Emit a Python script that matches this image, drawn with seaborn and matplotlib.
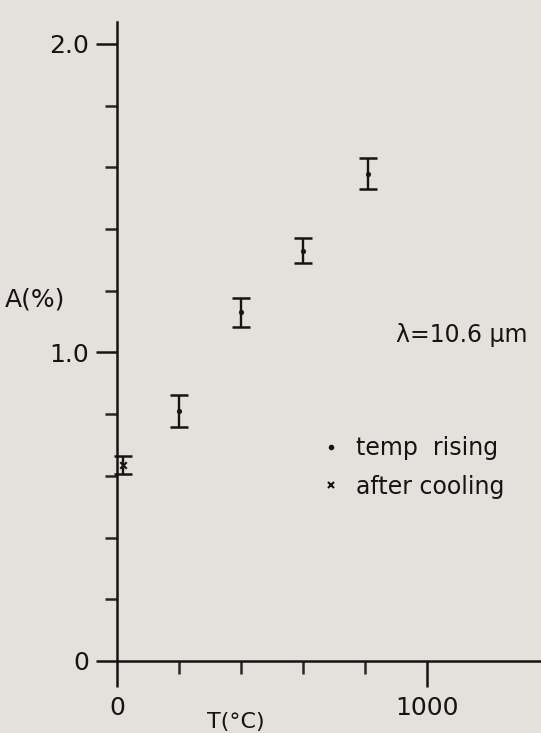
# -*- coding: utf-8 -*-
# 吸收率 A(%) 随温度 T(°C) 变化的误差棒图

import matplotlib
matplotlib.use("Agg")
import matplotlib.pyplot as plt
from matplotlib.lines import Line2D
import pandas as pd
import seaborn as sns

# 数据
rising_T = [200, 400, 600, 810]
rising_A = [0.81, 1.13, 1.33, 1.58]
rising_err = [0.052, 0.047, 0.040, 0.050]

cooling_T = [20]
cooling_A = [0.635]
cooling_err = [0.030]

x_major = [0, 1000]
x_ticklabels = ["0", "1000"]
x_minor = [200, 400, 600, 800]
y_major = [0, 1.0, 2.0]
y_ticklabels = ["0", "1.0", "2.0"]
y_minor = [0.2, 0.4, 0.6, 0.8, 1.2, 1.4, 1.6, 1.8]

legend_labels = ["temp  rising", "after cooling"]

bg_color = "#e4e1dc"
ink = "#141414"

sns.set_style("ticks")
plt.rcParams["font.family"] = ["DejaVu Sans"]
plt.rcParams["axes.linewidth"] = 1.8

# 像素 -> 数据 的换算 (x=0 在 117px, y=0 在 661px)
W, H = 541, 733
X0, XS = 117, 0.31
Y0, YS = 661, 308.5


def px(x, y):
    return (x - X0) / XS, (Y0 - y) / YS


fig = plt.figure(figsize=(W / 100, H / 100), dpi=100, facecolor=bg_color)
ax = fig.add_axes([0, 0, 1, 1])
ax.set_facecolor(bg_color)
ax.set_xlim(px(0, 0)[0], px(W, 0)[0])
ax.set_ylim(px(0, H)[1], px(0, 0)[1])

df_rise = pd.DataFrame({"T": rising_T, "A": rising_A, "err": rising_err})
df_cool = pd.DataFrame({"T": cooling_T, "A": cooling_A, "err": cooling_err})

# 误差棒
for df in (df_rise, df_cool):
    ax.errorbar(df["T"], df["A"], yerr=df["err"], fmt="none",
                ecolor=ink, elinewidth=1.7, capsize=6.5, capthick=1.8)

sns.scatterplot(data=df_rise, x="T", y="A", marker="o", s=12,
                color=ink, edgecolor=ink, ax=ax, zorder=3)
sns.scatterplot(data=df_cool, x="T", y="A", marker="x", s=22,
                color=ink, linewidth=1.5, ax=ax, zorder=3)

# 坐标轴
for side in ["top", "right"]:
    ax.spines[side].set_visible(False)
ax.spines["left"].set_position(("data", 0))
ax.spines["bottom"].set_position(("data", 0))
ax.spines["left"].set_bounds(0, 2.07)
ax.spines["bottom"].set_bounds(0, px(W, 0)[0])
for side in ["left", "bottom"]:
    ax.spines[side].set_color(ink)

ax.set_xticks(x_major)
ax.set_xticklabels(x_ticklabels)
ax.set_xticks(x_minor, minor=True)
ax.set_yticks(y_major)
ax.set_yticklabels(y_ticklabels)
ax.set_yticks(y_minor, minor=True)

ax.tick_params(axis="x", which="major", direction="out", length=19, width=1.8,
               pad=6, labelsize=18, colors=ink)
ax.tick_params(axis="x", which="minor", direction="out", length=9, width=1.8)
ax.tick_params(axis="y", which="major", direction="out", length=15, width=1.8,
               pad=5, labelsize=18, colors=ink)
ax.tick_params(axis="y", which="minor", direction="out", length=9, width=1.8)
ax.set_xlabel("")
ax.set_ylabel("")

# 文字标注
ax.text(*px(5, 300), "A(%)", fontsize=18, color=ink, ha="left", va="center")
ax.text(*px(236, 722), "T(°C)", fontsize=16, color=ink, ha="center", va="center")
ax.text(*px(396, 335), "λ=10.6 μm", fontsize=17, color=ink, ha="left", va="center")

# 图例
handles = [
    Line2D([], [], linestyle="none", marker="o", markersize=3, color=ink),
    Line2D([], [], linestyle="none", marker="x", markersize=5, color=ink, markeredgewidth=1.5),
]
ax.legend(handles, legend_labels, loc="upper left", frameon=False,
          bbox_to_anchor=(324 / W, 1 - 436 / H), fontsize=17, labelcolor=ink,
          handlelength=0.6, handletextpad=0.75, labelspacing=0.62,
          borderpad=0, borderaxespad=0)

fig.savefig("out.png", dpi=100, facecolor=bg_color)
